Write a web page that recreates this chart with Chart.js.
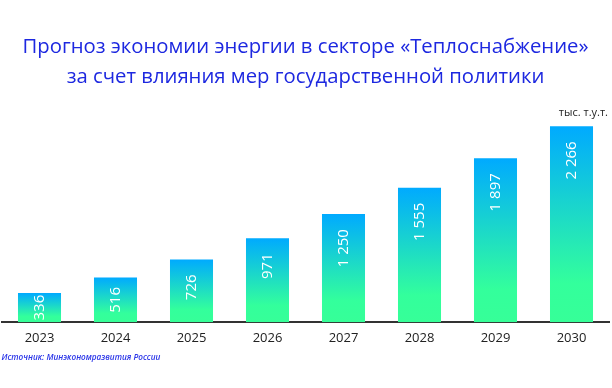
<!DOCTYPE html>
<html>
<head>
<meta charset="utf-8">
<script src="https://cdn.jsdelivr.net/npm/chart.js@4/dist/chart.umd.min.js"></script>
<style>
html,body{margin:0;padding:0;background:#fff;}
#wrap{width:612px;height:388px;position:relative;}
</style>
</head>
<body>
<div id="wrap"><canvas id="c" width="612" height="388"></canvas></div>
<script>
const titleLines = ['Прогноз экономии энергии в секторе «Теплоснабжение»', 'за счет влияния мер государственной политики'];
const years = ['2023','2024','2025','2026','2027','2028','2029','2030'];
const savings = [336, 516, 726, 971, 1250, 1555, 1897, 2266];
const unitLabel = 'тыс. т.у.т.';
const sourceText = 'Источник: Минэкономразвития России';

function fmt(v){ return String(v).replace(/\B(?=(\d{3})+(?!\d))/g, '\u00a0'); }

function barGradient(ctx){
  const chart = ctx.chart;
  const area = chart.chartArea;
  if(!area || ctx.dataIndex === undefined) return '#1ad0d0';
  const ys = chart.scales.y;
  const top = ys.getPixelForValue(ctx.raw);
  const base = ys.getPixelForValue(0);
  if(!isFinite(top) || base - top < 1) return '#33ff9c';
  const g = chart.ctx.createLinearGradient(0, top, 0, base);
  g.addColorStop(0, '#00aaff');
  g.addColorStop(0.8, '#33ff9c');
  g.addColorStop(1, '#36ff98');
  return g;
}

const labelPlugin = {
  id: 'valueLabels',
  afterDatasetsDraw(chart){
    const ctx = chart.ctx;
    const meta = chart.getDatasetMeta(0);
    ctx.save();
    ctx.font = '15px "Open Sans"';
    ctx.fillStyle = '#ffffff';
    ctx.textBaseline = 'middle';
    ctx.textAlign = 'right';
    meta.data.forEach((el, i) => {
      const txt = fmt(savings[i]);
      const w = ctx.measureText(txt).width;
      const h = el.base - el.y;
      const off = Math.max(0, Math.min(15, (h - w) / 2));
      ctx.save();
      ctx.translate(el.x, el.y + off);
      ctx.rotate(-Math.PI/2);
      ctx.fillText(txt, 0, 0);
      ctx.restore();
    });
    // unit label
    ctx.font = '11px "Open Sans"';
    ctx.fillStyle = '#222222';
    ctx.textAlign = 'right';
    ctx.fillText(unitLabel, 608, 113);
    ctx.restore();
  }
};

new Chart(document.getElementById('c'), {
  type: 'bar',
  data: {
    labels: years,
    datasets: [{
      data: savings,
      backgroundColor: barGradient,
      borderWidth: 0,
      categoryPercentage: 1.0,
      barPercentage: 0.566
    }]
  },
  options: {
    responsive: false,
    animation: false,
    devicePixelRatio: 1,
    layout: { padding: { left: 1.5, right: 2.5, top: 0, bottom: 0 } },
    plugins: {
      legend: { display: false },
      tooltip: { enabled: false },
      title: {
        display: true,
        text: titleLines,
        color: '#1d28e0',
        font: { family: '"Open Sans"', size: 20.3, weight: 'normal', lineHeight: 1.48 },
        padding: { top: 32, bottom: 14 }
      },
      subtitle: {
        display: true,
        position: 'bottom',
        align: 'start',
        text: sourceText,
        color: '#2a35e8',
        font: { family: '"Open Sans"', size: 8.2, style: 'italic', weight: '600', lineHeight: 1.2 },
        padding: { top: 4, bottom: 25 }
      }
    },
    scales: {
      x: {
        grid: { display: false, drawTicks: false },
        border: { display: true, color: '#333333', width: 2 },
        ticks: { color: '#222222', font: { family: '"Open Sans"', size: 13 }, padding: 8 },
        afterFit(scale){ scale.height = 27; }
      },
      y: {
        display: false,
        min: 0,
        max: 2500
      }
    }
  },
  plugins: [labelPlugin]
});
</script>
</body>
</html>
